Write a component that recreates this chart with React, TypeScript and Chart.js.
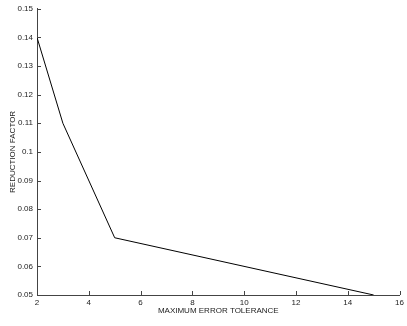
import React, { useEffect, useRef } from "react";
import { Chart, registerables } from "chart.js";

Chart.register(...registerables);

// Reduction factor measured against the maximum error tolerance
const tolerance = [2, 3, 5, 15];
const reductionFactor = [0.14, 0.11, 0.07, 0.05];
const xTicks = [2, 4, 6, 8, 10, 12, 14, 16];
const yTicks = [0.05, 0.06, 0.07, 0.08, 0.09, 0.1, 0.11, 0.12, 0.13, 0.14, 0.15];

const FONT = "'Liberation Sans', Arial, Helvetica, sans-serif";
const AXIS = "#444";
const TEXT = "#222";

// Draws short tick marks pointing into the plot area
const inwardTicks = {
  id: "inwardTicks",
  afterDatasetsDraw(chart: any) {
    const { ctx, chartArea, scales } = chart;
    const len = 4;
    ctx.save();
    ctx.strokeStyle = AXIS;
    ctx.lineWidth = 1;
    ctx.beginPath();
    for (const v of xTicks) {
      const x = Math.round(scales.x.getPixelForValue(v)) + 0.5;
      ctx.moveTo(x, chartArea.bottom);
      ctx.lineTo(x, chartArea.bottom - len);
    }
    for (const v of yTicks) {
      const y = Math.round(scales.y.getPixelForValue(v)) + 0.5;
      ctx.moveTo(chartArea.left, y);
      ctx.lineTo(chartArea.left + len, y);
    }
    ctx.stroke();
    ctx.restore();
  },
};

export default function App() {
  const ref = useRef<HTMLCanvasElement>(null);

  useEffect(() => {
    if (!ref.current) return;
    const chart = new Chart(ref.current, {
      type: "line",
      data: {
        datasets: [
          {
            data: tolerance.map((t, i) => ({ x: t, y: reductionFactor[i] })),
            borderColor: "#000",
            borderWidth: 1,
            pointRadius: 0,
            fill: false,
            tension: 0,
          },
        ],
      },
      options: {
        animation: false,
        responsive: false,
        devicePixelRatio: 1,
        layout: { padding: { top: 7, right: 5, left: 0, bottom: 0 } },
        plugins: { legend: { display: false }, tooltip: { enabled: false } },
        scales: {
          x: {
            type: "linear",
            min: 2,
            max: 16,
            afterBuildTicks: (s: any) => {
              s.ticks = xTicks.map((v) => ({ value: v }));
            },
            afterFit: (s: any) => {
              s.height = 31;
            },
            grid: { display: false, drawTicks: false },
            border: { display: true, color: AXIS, width: 1 },
            ticks: {
              color: TEXT,
              padding: 3,
              maxRotation: 0,
              font: { family: FONT, size: 8 },
            },
            title: {
              display: true,
              text: "MAXIMUM ERROR TOLERANCE",
              color: TEXT,
              font: { family: FONT, size: 8 },
              padding: { top: 0, bottom: 10 },
            },
          },
          y: {
            type: "linear",
            min: 0.05,
            max: 0.15,
            afterBuildTicks: (s: any) => {
              s.ticks = yTicks.map((v) => ({ value: v }));
            },
            afterFit: (s: any) => {
              s.width = 37;
            },
            grid: { display: false, drawTicks: false },
            border: { display: true, color: AXIS, width: 1 },
            ticks: {
              color: TEXT,
              padding: 4,
              font: { family: FONT, size: 8 },
              callback: (v: any) => String(Number(Number(v).toFixed(2))),
            },
            title: {
              display: true,
              text: "REDUCTION FACTOR",
              color: TEXT,
              font: { family: FONT, size: 8 },
              padding: { top: 8, bottom: 0 },
            },
          },
        },
      },
      plugins: [inwardTicks],
    });
    return () => chart.destroy();
  }, []);

  return (
    <div style={{ position: "absolute", left: 0, top: 0, width: 407, height: 326, background: "#fff" }}>
      <canvas ref={ref} width={407} height={326} style={{ display: "block" }} />
    </div>
  );
}
